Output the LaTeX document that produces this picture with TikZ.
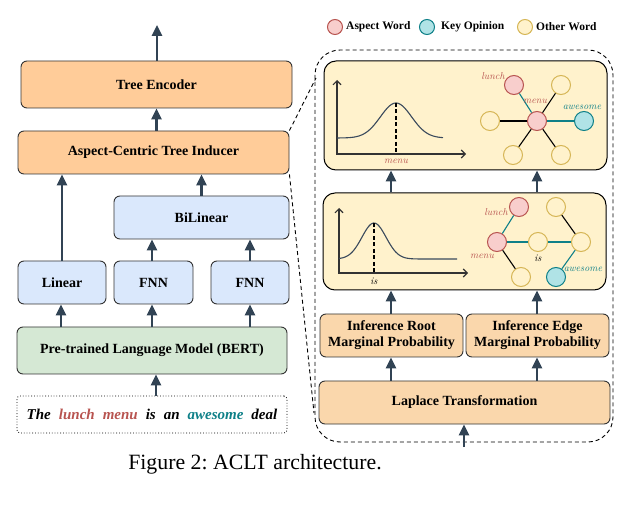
\documentclass[tikz,border=0pt]{standalone}
\usepackage{fontspec}
\usetikzlibrary{arrows.meta,shapes.geometric}
\newfontfamily\tnr{Liberation Serif}
\frenchspacing
\definecolor{arrowc}{HTML}{314354}
\definecolor{boxline}{HTML}{333333}
\definecolor{orangeA}{HTML}{FFCC99}
\definecolor{orangeB}{HTML}{FAD7AC}
\definecolor{blueA}{HTML}{DAE8FC}
\definecolor{greenA}{HTML}{D5E8D4}
\definecolor{panelY}{HTML}{FFF2CC}
\definecolor{redF}{HTML}{F8CECC}
\definecolor{redS}{HTML}{B85450}
\definecolor{tealF}{HTML}{B0E3E6}
\definecolor{tealS}{HTML}{0E8088}
\definecolor{yelF}{HTML}{FFF2CC}
\definecolor{yelS}{HTML}{D6B656}
\definecolor{curvec}{HTML}{3A4A5C}
\tikzset{
  boxfont/.style={font=\tnr\bfseries\fontsize{14}{16}\selectfont},
  box/.style={draw=boxline, line width=0.9pt, rounded corners=6pt, inner sep=0pt, align=center, boxfont},
  panel/.style={draw=black, line width=1pt, rounded corners=12pt, fill=panelY, inner sep=0pt},
  arr/.style={draw=arrowc, line width=2.6pt, -{Triangle[width=10pt,length=11pt]}},
  axisl/.style={draw=boxline, line width=1.1pt, {Straight Barb[length=4pt,width=8pt]}-{Straight Barb[length=4pt,width=8pt]}},
  curvel/.style={draw=curvec, line width=1.1pt},
  nd/.style={circle, minimum size=19pt, inner sep=0pt, line width=1pt},
  rednd/.style={nd, draw=redS, fill=redF},
  tealnd/.style={nd, draw=tealS, fill=tealF},
  yelnd/.style={nd, draw=yelS, fill=yelF},
  lgnd/.style={circle, minimum size=15pt, inner sep=0pt, line width=1pt},
  lgtext/.style={font=\tnr\bfseries\fontsize{11.5}{13}\selectfont, anchor=west, inner sep=0pt},
  wlab/.style={font=\itshape\fontsize{10}{12}\selectfont, inner sep=0pt},
  tealedge/.style={draw=tealS, line width=1.1pt},
  blkedge/.style={draw=black, line width=1.1pt},
  dashline/.style={draw=black, line width=0.9pt, dash pattern=on 4pt off 3pt},
}
\begin{document}
\begin{tikzpicture}[x=1pt,y=-1pt]
\useasboundingbox (0,0) rectangle (625,524);

% ---------- left column ----------
\node[box, fill=orangeA, minimum width=271pt, minimum height=47pt] (te) at (156.5,84.5) {Tree Encoder};
\node[box, fill=orangeA, minimum width=271pt, minimum height=43pt] (acti) at (153.5,152.5) {Aspect-Centric Tree Inducer};
\node[box, fill=blueA, minimum width=175pt, minimum height=43pt] (bil) at (201.5,217.5) {BiLinear};
\node[box, fill=blueA, minimum width=88pt, minimum height=43pt] (lin) at (62,282.5) {Linear};
\node[box, fill=blueA, minimum width=79pt, minimum height=43pt] (fnna) at (153.5,282.5) {FNN};
\node[box, fill=blueA, minimum width=78pt, minimum height=43pt] (fnnb) at (250,282.5) {FNN};
\node[box, fill=greenA, minimum width=270pt, minimum height=47pt] (bert) at (152,350.5) {Pre-trained Language Model (BERT)};
\node[draw=black, line width=0.8pt, dotted, rounded corners=3pt, minimum width=270pt, minimum height=37pt, inner sep=0pt,
  font=\tnr\bfseries\itshape\fontsize{15}{17}\selectfont] (sent) at (152,414.5)
  {\spaceskip=8pt\relax The \textcolor{redS}{lunch} \textcolor{redS}{menu} is an \textcolor{tealS}{awesome} deal};

\coordinate (outtop) at (157,25);
\draw[arr] (te.north -| outtop) -- (outtop);
\draw[arr] (acti.north -| te.north) -- (te.south);
\draw[arr] (lin.north) -- (lin.north |- acti.south);
\draw[arr] (bil.north) -- (bil.north |- acti.south);
\coordinate (fa) at (152,0);
\coordinate (fb) at (250,0);
\draw[arr] (fnna.north -| fa) -- (bil.south -| fa);
\draw[arr] (fnnb.north -| fb) -- (bil.south -| fb);
\coordinate (la) at (61,0);
\draw[arr] (bert.north -| la) -- (lin.south -| la);
\draw[arr] (bert.north -| fa) -- (fnna.south -| fa);
\draw[arr] (bert.north -| fb) -- (fnnb.south -| fb);
\coordinate (sa) at (156,0);
\draw[arr] (sent.north -| sa) -- (bert.south -| sa);

% ---------- legend ----------
\node[lgnd, draw=redS, fill=redF] (lga) at (335,27) {};
\node[lgtext] (lgat) at (346,27) {Aspect Word};
\node[lgnd, draw=tealS, fill=tealF] (lgb) at (427,27) {};
\node[lgtext] (lgbt) at (441,27) {Key Opinion};
\node[lgnd, draw=yelS, fill=yelF] (lgc) at (525,27) {};
\node[lgtext] (lgct) at (536,27) {Other Word};

% ---------- zoom outline ----------
\draw[dashline, rounded corners=25pt] (315,50) rectangle (613,442);
\coordinate (za) at (316,78);
\coordinate (zb) at (314,413);
\draw[dashline] (acti.north east) -- (za);
\draw[dashline] (acti.south east) -- (zb);

% ---------- right column ----------
\node[panel, minimum width=283pt, minimum height=109pt] (p1) at (465.5,115.5) {};
\node[panel, minimum width=283pt, minimum height=97pt] (p2) at (464.5,241.5) {};
\node[box, fill=orangeB, minimum width=143pt, minimum height=43pt] (infr) at (391.5,335.5) {Inference Root\\Marginal Probability};
\node[box, fill=orangeB, minimum width=143pt, minimum height=43pt] (infe) at (537.5,335.5) {Inference Edge\\Marginal Probability};
\node[box, fill=orangeB, minimum width=291pt, minimum height=43pt] (lap) at (464.5,402.5) {Laplace Transformation};

\coordinate (ra) at (391,0);
\coordinate (rb) at (537,0);
\draw[arr] (p2.north -| ra) -- (p1.south -| ra);
\draw[arr] (p2.north -| rb) -- (p1.south -| rb);
\draw[arr] (infr.north -| ra) -- (p2.south -| ra);
\draw[arr] (infe.north -| rb) -- (p2.south -| rb);
\draw[arr] (lap.north -| ra) -- (infr.south -| ra);
\draw[arr] (lap.north -| rb) -- (infe.south -| rb);
\coordinate (inbot) at (464,447);
\draw[arr] (inbot) -- (lap.south -| inbot);

% top chart
\draw[axisl] (337,80) -- (337,154) -- (466,154);
\draw[curvel] plot[domain=337:443, samples=80] (\x, {138-35*exp(-((\x-396)/22)^2)});
\draw[draw=black, line width=1.1pt, dash pattern=on 4pt off 2.5pt] (396,103) -- (396,154);
\node[wlab, text=redS] (mlab1) at (396,161) {menu};

% top tree
\node[rednd] (c1) at (537,121) {};
\node[rednd] (l1) at (514,85) {};
\node[yelnd] (tr1) at (561,85) {};
\node[yelnd] (lf1) at (490,121) {};
\node[tealnd] (aw1) at (584,121) {};
\node[yelnd] (bl1) at (513,155) {};
\node[yelnd] (br1) at (561,155) {};
\draw[tealedge] (c1) -- (l1);
\draw[tealedge] (c1) -- (aw1);
\draw[blkedge] (c1) -- (tr1);
\draw[blkedge] (c1) -- (lf1);
\draw[blkedge] (c1) -- (bl1);
\draw[blkedge] (c1) -- (br1);
\node[wlab, text=redS] (lunch1) at (493,76) {lunch};
\node[wlab, text=redS] (menu1) at (535,101) {menu};
\node[wlab, text=tealS] (awe1) at (582,107) {awesome};

% second chart
\draw[axisl] (339,208) -- (339,273) -- (468,273);
\draw[curvel] plot[domain=339:457, samples=80] (\x, {259-36*exp(-((\x-374)/17)^2)});
\draw[draw=black, line width=1.1pt, dash pattern=on 4pt off 2.5pt] (374,223) -- (374,273);
\node[wlab] (islab2) at (374,281) {is};

% second tree
\node[rednd] (m2) at (497,242) {};
\node[rednd] (l2) at (519,207) {};
\node[yelnd] (i2) at (538,242) {};
\node[yelnd] (r2) at (581,242) {};
\node[yelnd] (t2) at (556,207) {};
\node[yelnd] (b2) at (521,277) {};
\node[tealnd] (a2) at (556,277) {};
\draw[tealedge] (l2) -- (m2);
\draw[tealedge] (m2) -- (i2);
\draw[tealedge] (i2) -- (r2);
\draw[tealedge] (r2) -- (a2);
\draw[blkedge] (t2) -- (r2);
\draw[blkedge] (m2) -- (b2);
\node[wlab, text=redS] (lunch2) at (496,212) {lunch};
\node[wlab, text=redS] (menu2) at (482,256) {menu};
\node[wlab] (is2) at (538,258) {is};
\node[wlab, text=tealS] (awe2) at (583,269) {awesome};

% caption
\node[font=\tnr\fontsize{21.8}{26}\selectfont, anchor=base, inner sep=0pt] (cap) at (255,469) {Figure 2: ACLT architecture.};
\end{tikzpicture}
\end{document}
